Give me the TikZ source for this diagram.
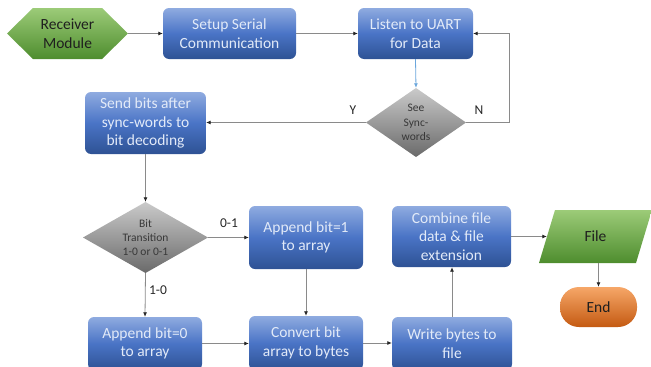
\documentclass[tikz,border=0pt]{standalone}
\usepackage{fontspec}
\setmainfont{Carlito}
\usetikzlibrary{arrows.meta}
\definecolor{bluetop}{HTML}{8FABE0}
\definecolor{bluemid}{HTML}{4A74C6}
\definecolor{bluebot}{HTML}{2E5294}
\definecolor{greentop}{HTML}{9CCB78}
\definecolor{greenbot}{HTML}{4E8D2E}
\definecolor{graytop}{HTML}{CACACA}
\definecolor{graybot}{HTML}{6A6A6A}
\definecolor{orangetop}{HTML}{F6A768}
\definecolor{orangebot}{HTML}{C45A12}
\definecolor{linegray}{HTML}{8A8A8A}
\definecolor{lineblue}{HTML}{6AA6DC}
\definecolor{boxtext}{HTML}{E2EAF8}
\begin{document}
\begin{tikzpicture}[x=1pt,y=-1pt,
  bluebox/.style={rectangle, rounded corners=6pt, top color=bluetop, bottom color=bluebot, middle color=bluemid,
    text=boxtext, align=center, inner sep=0pt, font=\fontsize{15.5}{18.5}\selectfont},
  greenfill/.style={top color=greentop, bottom color=greenbot},
  grayfill/.style={top color=graytop, bottom color=graybot},
  anchorbox/.style={rectangle, inner sep=0pt, align=center},
  dtext/.style={anchorbox, text=black!78, font=\fontsize{11.5}{14.3}\selectfont},
  lbl/.style={inner sep=0pt, text=black!85, font=\fontsize{13.5}{16}\selectfont},
  arr/.style={draw=linegray, line width=0.8pt, -{Latex[length=4.5pt,width=4pt,color=black!85]}}
]
\useasboundingbox (0,0) rectangle (651,367);

% Receiver Module hexagon
\path[greenfill] (7,33.5) -- (33,8) -- (102,8) -- (128,33.5) -- (102,59) -- (33,59) -- cycle;
\node[anchorbox, minimum width=121, minimum height=51, text=black!88, font=\fontsize{15.5}{18.5}\selectfont] (rm) at (67.5,33.5) {Receiver\\Module};

\node[bluebox, minimum width=133, minimum height=51] (setup) at (229.5,33.5) {Setup Serial\\Communication};
\node[bluebox, minimum width=115, minimum height=51] (listen) at (415.5,33.5) {Listen to UART\\for Data};

% See Sync-words diamond
\path[grayfill] (366,122.5) -- (416,88) -- (466,122.5) -- (416,157) -- cycle;
\node[dtext, minimum width=100, minimum height=69] (sync) at (416,122.5) {See\\Sync-\\words};

\node[bluebox, minimum width=121, minimum height=62] (send) at (145.5,123) {Send bits after\\sync-words to\\bit decoding};

% Bit Transition diamond
\path[grayfill] (83,237.5) -- (145.5,202) -- (208,237.5) -- (145.5,273) -- cycle;
\node[dtext, minimum width=125, minimum height=71] (bit) at (145.5,237.5) {Bit\\Transition\\1-0 or 0-1};

\node[bluebox, minimum width=114, minimum height=63] (app1) at (306,237.5) {Append bit=1\\to array};
\node[bluebox, minimum width=119, minimum height=61] (comb) at (451.5,236.5) {Combine file\\data \& file\\extension};
\node[bluebox, minimum width=114, minimum height=53] (app0) at (145,343.5) {Append bit=0\\to array};
\node[bluebox, minimum width=114, minimum height=54] (conv) at (306,343) {Convert bit\\array to bytes};
\node[bluebox, minimum width=120, minimum height=53] (write) at (452,343.5) {Write bytes to\\file};

% File parallelogram
\path[greenfill] (555,210) -- (652,210) -- (636,263) -- (539,263) -- cycle;
\node[anchorbox, minimum width=97, minimum height=53, text=black!88, font=\fontsize{15.5}{18.5}\selectfont] (file) at (595.5,236.5) {File};

% End
\node[rectangle, rounded corners=19pt, top color=orangetop, bottom color=orangebot, minimum width=77, minimum height=40,
  inner sep=0pt, text=black!88, font=\fontsize{15.5}{18.5}\selectfont] (end) at (598.5,307) {End};

% labels
\node[lbl] (ly) at (353,110) {Y};
\node[lbl] (ln) at (479,110) {N};
\node[lbl] (l01) at (229,223) {0-1};
\node[lbl] (l10) at (158,290) {1-0};

% connectors
\coordinate (nloop) at (509,122.5);
\draw[arr] (rm.east) -- (setup.west);
\draw[arr] (setup.east) -- (listen.west);
\draw[draw=lineblue, line width=0.8pt, -{Latex[length=4.5pt,width=4pt,color=lineblue]}] (listen.south) -- (sync.north);
\draw[arr] (sync.east) -- (nloop) |- (listen.east);
\draw[arr] (sync.west) -- (sync.west -| send.east);
\draw[arr] (send.south) -- (bit.north);
\draw[arr] (bit.east) -- (bit.east -| app1.west);
\draw[arr] (bit.south) -- (app0.north);
\draw[arr] (app1.south) -- (conv.north);
\draw[arr] (app0.east) -- (app0.east -| conv.west);
\draw[arr] (conv.east) -- (conv.east -| write.west);
\draw[arr] (write.north) -- (write.north |- comb.south);
\draw[arr] (comb.east) -- (comb.east -| file.west);
\draw[arr] (file.south -| end.north) -- (end.north);
\end{tikzpicture}
\end{document}
